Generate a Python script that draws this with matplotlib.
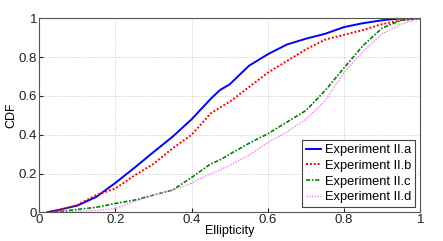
import matplotlib
matplotlib.use("Agg")
import matplotlib.pyplot as plt

plt.rcParams['font.family'] = ['Liberation Sans', 'DejaVu Sans']

x_a = [0.02, 0.05, 0.1, 0.15, 0.2, 0.25, 0.3, 0.35, 0.4, 0.45, 0.474, 0.5, 0.55, 0.6, 0.65, 0.7, 0.75, 0.8, 0.85, 0.9, 0.95, 1.0]
y_a = [0.0, 0.012, 0.035, 0.08, 0.152, 0.23, 0.311, 0.39, 0.48, 0.585, 0.63, 0.66, 0.755, 0.815, 0.865, 0.895, 0.92, 0.955, 0.975, 0.99, 1.0, 1.0]

x_b = [0.02, 0.05, 0.1, 0.15, 0.2, 0.25, 0.3, 0.35, 0.4, 0.45, 0.474, 0.5, 0.55, 0.6, 0.65, 0.7, 0.75, 0.8, 0.85, 0.9, 0.95, 1.0]
y_b = [0.0, 0.01, 0.038, 0.09, 0.123, 0.19, 0.25, 0.33, 0.40, 0.51, 0.54, 0.57, 0.645, 0.72, 0.78, 0.84, 0.89, 0.915, 0.94, 0.97, 0.99, 1.0]

x_c = [0.03, 0.06, 0.1, 0.15, 0.2, 0.25, 0.3, 0.35, 0.4, 0.45, 0.474, 0.5, 0.55, 0.6, 0.65, 0.7, 0.75, 0.8, 0.85, 0.9, 0.95, 1.0]
y_c = [0.0, 0.005, 0.015, 0.026, 0.046, 0.063, 0.089, 0.115, 0.18, 0.25, 0.27, 0.30, 0.355, 0.405, 0.465, 0.525, 0.627, 0.745, 0.86, 0.95, 0.99, 1.0]

x_d = [0.05, 0.1, 0.15, 0.2, 0.25, 0.3, 0.35, 0.4, 0.45, 0.474, 0.5, 0.55, 0.6, 0.65, 0.7, 0.75, 0.8, 0.85, 0.9, 0.95, 1.0]
y_d = [0.0, 0.005, 0.01, 0.02, 0.055, 0.089, 0.115, 0.15, 0.2, 0.217, 0.243, 0.294, 0.36, 0.414, 0.48, 0.575, 0.72, 0.83, 0.92, 0.97, 1.0]

labels = ['Experiment II.a', 'Experiment II.b', 'Experiment II.c', 'Experiment II.d']
ticks = [0, 0.2, 0.4, 0.6, 0.8, 1]
tick_labels = ['0', '0.2', '0.4', '0.6', '0.8', '1']

fig = plt.figure(figsize=(4.43, 2.41), dpi=100)
ax = fig.add_axes([0.0887, 0.119, 0.86, 0.805])

ax.plot(x_a, y_a, color='#0000ff', linestyle='-', linewidth=1.4, label=labels[0])
ax.plot(x_b, y_b, color='#ff0000', linestyle=(0, (1, 1)), linewidth=1.4, label=labels[1])
ax.plot(x_c, y_c, color='#008000', linestyle=(0, (2.5, 1, 1, 1)), linewidth=1.2, label=labels[2])
ax.plot(x_d, y_d, color='#ee82ee', linestyle=(0, (1, 1)), linewidth=1.0, label=labels[3])

ax.set_xlim(0, 1)
ax.set_ylim(0, 1)
ax.set_xticks(ticks)
ax.set_xticklabels(tick_labels)
ax.set_yticks(ticks)
ax.set_yticklabels(tick_labels)
ax.tick_params(labelsize=9.5, direction='in', length=3, pad=1.5, colors='#222222')
ax.grid(True, linestyle=':', color='#bbbbbb', linewidth=0.6)
for s in ax.spines.values():
    s.set_color('#555555')
    s.set_linewidth(0.8)
ax.set_xlabel('Ellipticity', fontsize=9, labelpad=-1)
ax.set_ylabel('CDF', fontsize=9, labelpad=1)

leg = ax.legend(loc='lower right', fontsize=9.3, handlelength=1.2, handletextpad=0.3,
                labelspacing=0.28, borderpad=0.3, borderaxespad=0.4, fancybox=False,
                framealpha=1, edgecolor='#444444')
leg.get_frame().set_linewidth(0.8)

fig.savefig('out.png', dpi=100)
